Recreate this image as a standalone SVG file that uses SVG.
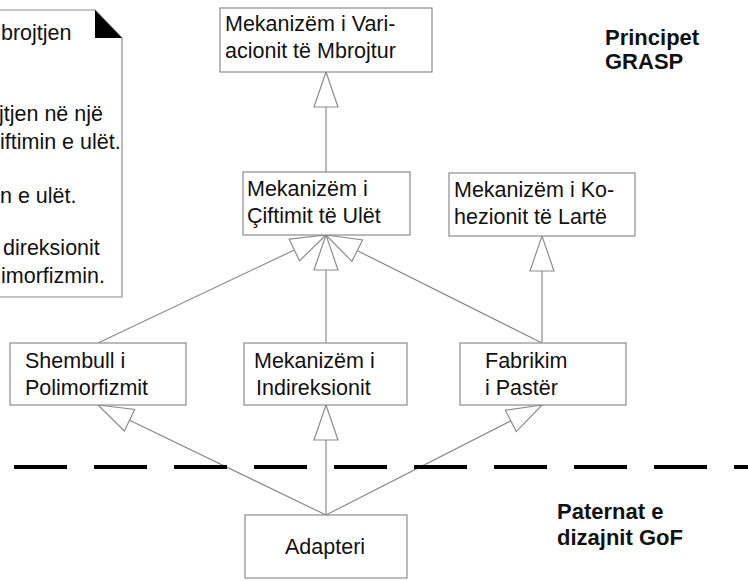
<svg xmlns="http://www.w3.org/2000/svg" width="748" height="581" viewBox="0 0 748 581">
  <style>
    .box { fill: #ffffff; stroke: #8c8c8c; stroke-width: 1.2; }
    .txt { font-family: "Liberation Sans", Arial, sans-serif; font-size: 21.5px; fill: #111111; }
    .bold { font-family: "Liberation Sans", Arial, sans-serif; font-size: 22px; font-weight: bold; fill: #111111; }
    .conn { fill: none; stroke: #8c8c8c; stroke-width: 1.2; marker-end: url(#gen); }
    .sep { fill: none; stroke: #000000; stroke-width: 4; stroke-dasharray: 53 27; }
  </style>
  <defs>
    <!-- hollow generalization arrowhead -->
    <marker id="gen" viewBox="-1 -1 37 26" refX="35" refY="12" markerWidth="37" markerHeight="26" markerUnits="userSpaceOnUse" orient="auto">
      <path d="M0,0 L35,12 L0,24 Z" fill="#ffffff" stroke="#8c8c8c" stroke-width="1.2"/>
    </marker>
  </defs>

  <rect width="748" height="581" fill="#ffffff"/>

  <!-- note (partly beyond the left edge) -->
  <g id="note">
    <path d="M-10,10 L95,10 L122,38 L122,297 L-10,297 Z" fill="#ffffff" stroke="#8c8c8c" stroke-width="1.2"/>
    <path d="M95,10 L122,38 L95,38 Z" fill="#000000"/>
    <text class="txt" x="1" y="40">brojtjen</text>
    <text class="txt" x="-1" y="121">jtjen në një</text>
    <text class="txt" x="0" y="149">iftimin e ulët.</text>
    <text class="txt" x="0" y="203">n e ulët.</text>
    <text class="txt" x="3" y="255">direksionit</text>
    <text class="txt" x="1" y="283">imorfizmin.</text>
  </g>

  <!-- connectors -->
  <g id="connectors">
    <path class="conn" d="M326,172 L326,72"/>
    <path class="conn" d="M98,343 L326,235"/>
    <path class="conn" d="M326,343 L326,235"/>
    <path class="conn" d="M542,343 L326,235"/>
    <path class="conn" d="M542,343 L542,236"/>
    <path class="conn" d="M326,515 L98,405"/>
    <path class="conn" d="M326,515 L326,405"/>
    <path class="conn" d="M326,515 L542,405"/>
  </g>

  <!-- boundary between GRASP principles and GoF patterns -->
  <line class="sep" x1="14" y1="467" x2="748" y2="467"/>

  <g id="variacioni">
    <rect class="box" x="220" y="8" width="212" height="64"/>
    <text class="txt" x="225" y="31">Mekanizëm i Vari-</text>
    <text class="txt" x="225" y="58">acionit të Mbrojtur</text>
  </g>

  <g id="ciftimi">
    <rect class="box" x="243" y="172" width="167" height="63"/>
    <text class="txt" x="247" y="196">Mekanizëm i</text>
    <text class="txt" x="247" y="223">Çiftimit të Ulët</text>
  </g>

  <g id="kohezioni">
    <rect class="box" x="449" y="173" width="186" height="63"/>
    <text class="txt" x="454" y="197">Mekanizëm i Ko-</text>
    <text class="txt" x="454" y="224">hezionit të Lartë</text>
  </g>

  <g id="polimorfizmi">
    <rect class="box" x="10" y="343" width="176" height="62"/>
    <text class="txt" x="25" y="368">Shembull i</text>
    <text class="txt" x="25" y="395">Polimorfizmit</text>
  </g>

  <g id="indireksioni">
    <rect class="box" x="244" y="343" width="163" height="62"/>
    <text class="txt" x="254" y="368">Mekanizëm i</text>
    <text class="txt" x="256" y="395">Indireksionit</text>
  </g>

  <g id="fabrikimi">
    <rect class="box" x="460" y="343" width="166" height="62"/>
    <text class="txt" x="485" y="368">Fabrikim</text>
    <text class="txt" x="485" y="395">i Pastër</text>
  </g>

  <g id="adapteri">
    <rect class="box" x="245" y="515" width="162" height="63"/>
    <text class="txt" x="285" y="554">Adapteri</text>
  </g>

  <g id="labels">
    <text class="bold" x="605" y="45">Principet</text>
    <text class="bold" x="605" y="69">GRASP</text>
    <text class="bold" x="557" y="519">Paternat e</text>
    <text class="bold" x="557" y="545">dizajnit GoF</text>
  </g>
</svg>
